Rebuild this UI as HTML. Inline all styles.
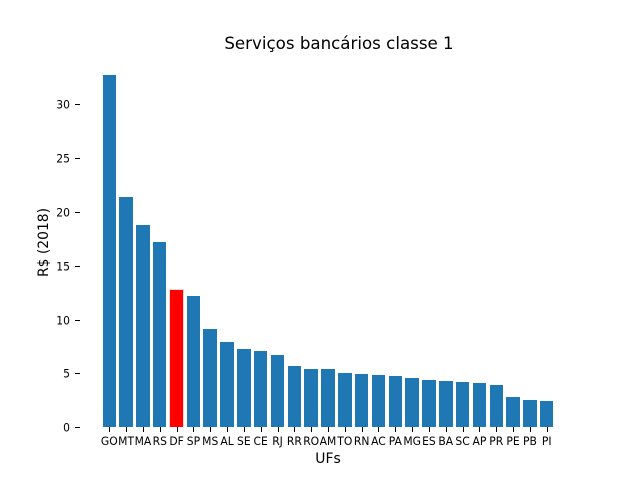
<!DOCTYPE html>
<html>
<head>
<meta charset="utf-8">
<style>
html,body{margin:0;padding:0;background:#fff;}
svg{display:block;}
text{font-family:"DejaVu Sans",sans-serif;fill:#000;}
</style>
</head>
<body>
<svg id="chart" width="640" height="480" viewBox="0 0 640 480" xmlns="http://www.w3.org/2000/svg">
<rect width="640" height="480" fill="#fff"/>
<text x="339" y="49" font-size="16.67" text-anchor="middle">Serviços bancários classe 1</text>
<text x="328" y="463" font-size="13.9" text-anchor="middle">UFs</text>
<text transform="translate(48,242.5) rotate(-90)" font-size="13.9" text-anchor="middle">R$ (2018)</text>
<g id="bars" shape-rendering="crispEdges"></g>
<g id="xticks"></g>
<g id="yticks"></g>
</svg>
<script>
const categories = ["GO","MT","MA","RS","DF","SP","MS","AL","SE","CE","RJ","RR","RO","AM","TO","RN","AC","PA","MG","ES","BA","SC","AP","PR","PE","PB","PI"];
const values = [32.7,21.38,18.78,17.2,12.74,12.19,9.12,7.91,7.26,7.08,6.71,5.69,5.41,5.41,5.03,4.94,4.85,4.76,4.57,4.38,4.29,4.2,4.1,3.92,2.8,2.53,2.43];
const highlighted = ["DF"];
const yTickValues = [0,5,10,15,20,25,30];

const NS = "http://www.w3.org/2000/svg";
const plotLeft = 80, plotWidth = 496, plotBottom = 427.2, plotHeight = 369.6;
const barWidth = 0.8;
const labelSqueeze = 0.97;
const xMin = -barWidth / 2, xMax = categories.length - 1 + barWidth / 2;
const xPad = (xMax - xMin) * 0.05;
const yMax = Math.max(...values) * 1.05;
function xScale(v) { return plotLeft + (v - (xMin - xPad)) / (xMax - xMin + 2 * xPad) * plotWidth; }
function yScale(v) { return plotBottom - v / yMax * plotHeight; }
function make(tag, attrs, parent) {
  const el = document.createElementNS(NS, tag);
  for (const k in attrs) el.setAttribute(k, attrs[k]);
  parent.appendChild(el);
  return el;
}
const barsG = document.getElementById("bars");
const xG = document.getElementById("xticks");
const yG = document.getElementById("yticks");
categories.forEach(function (c, i) {
  const x0 = Math.round(xScale(i - barWidth / 2)), x1 = Math.round(xScale(i + barWidth / 2));
  const top = Math.round(yScale(values[i])), base = Math.round(plotBottom);
  const isHighlighted = highlighted.includes(c);
  if (isHighlighted) {
    const halo = make("rect", {x: x0 - 1, y: top - 1, width: x1 - x0 + 2, height: base - top + 1, fill: "#ffd6d6"}, barsG);
    
    
  }
  const bar = make("rect", {x: x0, y: top, width: x1 - x0, height: base - top, fill: isHighlighted ? "#ff0000" : "#1f77b4"}, barsG);
  
  
  const cx = xScale(i);
  const tickX = Math.round(cx) + 0.5;
  const tick = make("line", {x1: tickX, x2: tickX, y1: base, y2: base + 5, stroke: "#000", "stroke-width": 1}, xG);
  
  
  const label = make("text", {transform: "translate(" + cx + ",445) scale(" + labelSqueeze + ",1)", "font-size": 11.1, "text-anchor": "middle"}, xG);
  label.textContent = c;
  
  
});
yTickValues.forEach(function (v) {
  const y = Math.round(yScale(v));
  const tickY = y + 0.5;
  const tick = make("line", {x1: 75, x2: 80, y1: tickY, y2: tickY, stroke: "#000", "stroke-width": 1}, yG);
  
  
  const label = make("text", {transform: "translate(70," + (y + 4.5) + ") scale(" + labelSqueeze + ",1)", "font-size": 11.1, "text-anchor": "end"}, yG);
  label.textContent = String(v);
  
  
});
</script>
</body>
</html>
